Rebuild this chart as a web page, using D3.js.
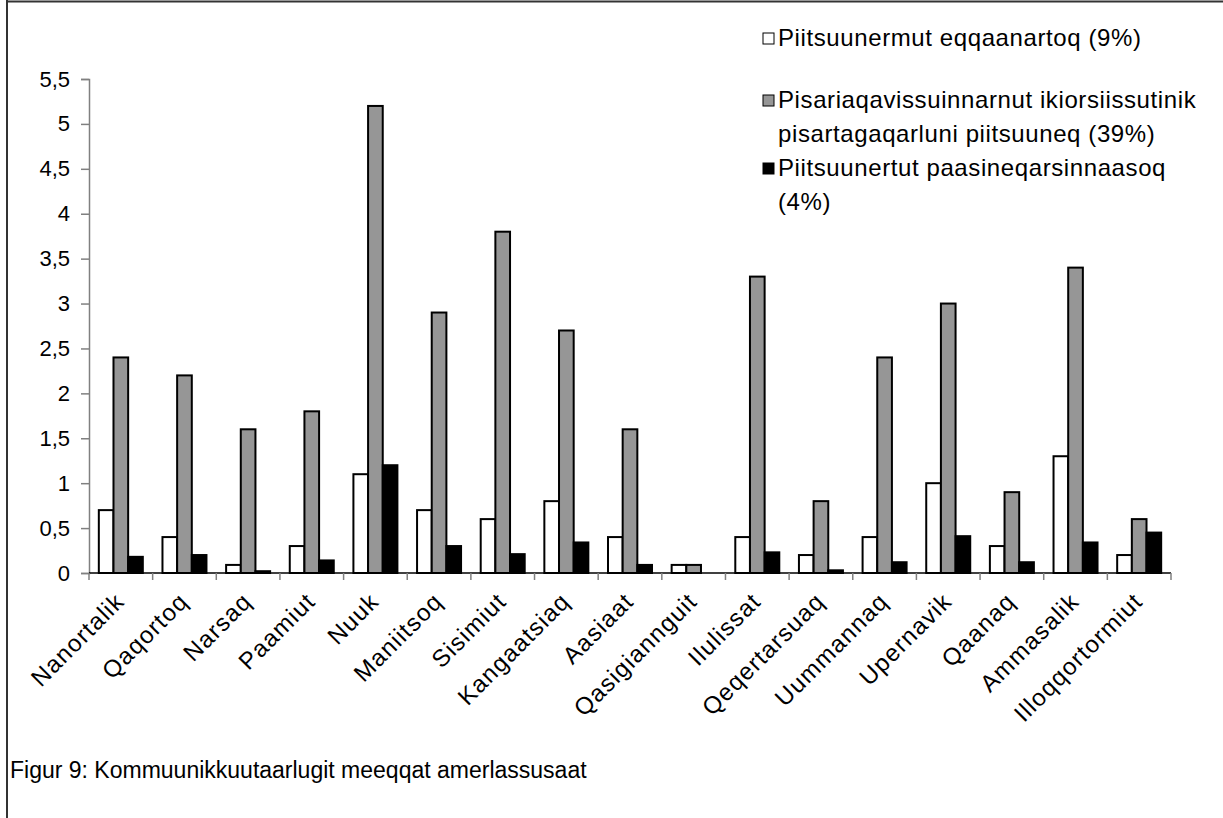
<!DOCTYPE html>
<html>
<head>
<meta charset="utf-8">
<script src="https://cdn.jsdelivr.net/npm/d3@7"></script>
<style>
  body { margin: 0; background: #fff; }
  svg { font-family: "Liberation Sans", Arial, sans-serif; }
</style>
</head>
<body>
<svg id="chart"></svg>
<script>
// data
const towns = ["Nanortalik", "Qaqortoq", "Narsaq", "Paamiut", "Nuuk", "Maniitsoq",
  "Sisimiut", "Kangaatsiaq", "Aasiaat", "Qasigiannguit", "Ilulissat", "Qeqertarsuaq",
  "Uummannaq", "Upernavik", "Qaanaq", "Ammasalik", "Illoqqortormiut"];
const eqqaanartoq = [0.7, 0.4, 0.09, 0.3, 1.1, 0.7, 0.6, 0.8, 0.4, 0.09, 0.4, 0.2, 0.4, 1.0, 0.3, 1.3, 0.2];
const pisartagaqarluni = [2.4, 2.2, 1.6, 1.8, 5.2, 2.9, 3.8, 2.7, 1.6, 0.09, 3.3, 0.8, 2.4, 3.0, 0.9, 3.4, 0.6];
const paasineqarsinnaasoq = [0.18, 0.2, 0.02, 0.14, 1.2, 0.3, 0.21, 0.34, 0.09, 0, 0.23, 0.03, 0.12, 0.41, 0.12, 0.34, 0.45];
const yTicks = [0, 0.5, 1, 1.5, 2, 2.5, 3, 3.5, 4, 4.5, 5, 5.5];
const seriesNames = [
  ["Piitsuunermut eqqaanartoq (9%)"],
  ["Pisariaqavissuinnarnut ikiorsiissutinik", "pisartagaqarluni piitsuuneq (39%)"],
  ["Piitsuunertut paasineqarsinnaasoq", "(4%)"]
];
const caption = "Figur 9: Kommuunikkuutaarlugit meeqqat amerlassusaat";

const series = [eqqaanartoq, pisartagaqarluni, paasineqarsinnaasoq];
const colors = ["#ffffff", "#969696", "#000000"];

const width = 1223, height = 818;
const svg = d3.select("#chart").attr("width", width).attr("height", height);

// frame (top + left)
svg.append("line").attr("x1", 7).attr("x2", width).attr("y1", 1.5).attr("y2", 1.5)
  .attr("stroke", "#333").attr("stroke-width", 2);
svg.append("line").attr("x1", 7).attr("x2", 7).attr("y1", 0).attr("y2", height)
  .attr("stroke", "#333").attr("stroke-width", 2);

// scales
let x = d3.scaleBand().domain(towns).range([89, 1171]).paddingInner(0).paddingOuter(0);
let inner = d3.scaleBand().domain([0, 1, 2])
  .range([0, x.bandwidth()]).paddingInner(0).paddingOuter(0.67);
let y = d3.scaleLinear().domain([0, 5.5]).range([573, 79]);

// bars
series.forEach((vals, s) => {
  svg.append("g")
    .selectAll("rect")
    .data(vals.map((v, i) => ({ town: towns[i], v: v })).filter((d) => d.v > 0))
    .enter()
    .append("rect")
    .attr("x", (d) => x(d.town) + inner(s))
    .attr("width", inner.bandwidth())
    .attr("y", (d) => y(d.v))
    .attr("height", (d) => y(0) - y(d.v))
    .attr("fill", colors[s])
    .attr("stroke", "#000")
    .attr("stroke-width", 2);
});

// y axis
let yAxis = svg.append("g")
  .attr("transform", "translate(89,0)")
  .call(d3.axisLeft(y).tickValues(yTicks).tickSize(8).tickPadding(11)
    .tickFormat((d) => String(d).replace(".", ",")));
yAxis.select(".domain").attr("stroke", "#808080").attr("stroke-width", 1.5);
yAxis.selectAll(".tick line").attr("stroke", "#808080").attr("stroke-width", 1.5);
yAxis.selectAll("text").attr("font-size", 22).attr("fill", "#000")
  .attr("font-family", "Liberation Sans, Arial, sans-serif");

// x axis
let xAxis = svg.append("g")
  .attr("transform", "translate(0,573)");
xAxis.append("line").attr("x1", 89).attr("x2", 1171).attr("stroke", "#000").attr("stroke-width", 1.5);
xAxis.selectAll(".xt")
  .data(towns.concat(["end"]))
  .enter()
  .append("line")
  .attr("x1", (d, i) => (i < towns.length ? x(d) : x.range()[1]))
  .attr("x2", (d, i) => (i < towns.length ? x(d) : x.range()[1]))
  .attr("y1", 0).attr("y2", 7)
  .attr("stroke", "#808080").attr("stroke-width", 1.5);
xAxis.selectAll(".xl")
  .data(towns)
  .enter()
  .append("text")
  .attr("transform", (d) => `translate(${x(d) + x.bandwidth() / 2 + 5},${30}) rotate(-45)`)
  .attr("text-anchor", "end")
  .attr("font-size", 24)
  .attr("letter-spacing", 1.2)
  .text((d) => d);

// legend
let legendY = [38, 100, 168];
seriesNames.forEach((lines, s) => {
  let g = svg.append("g").attr("transform", `translate(763,${legendY[s]})`);
  g.append("rect").attr("x", 0).attr("y", -5).attr("width", 11).attr("height", 11)
    .attr("fill", colors[s]).attr("stroke", "#000").attr("stroke-width", 1);
  lines.forEach((t, j) => {
    g.append("text").attr("x", 15).attr("y", j * 34 + 8)
      .attr("font-size", 24).attr("letter-spacing", 0.6).text(t);
  });
});

// caption
svg.append("text").attr("x", 10).attr("y", 778).attr("font-size", 23).text(caption);
</script>
</body>
</html>
